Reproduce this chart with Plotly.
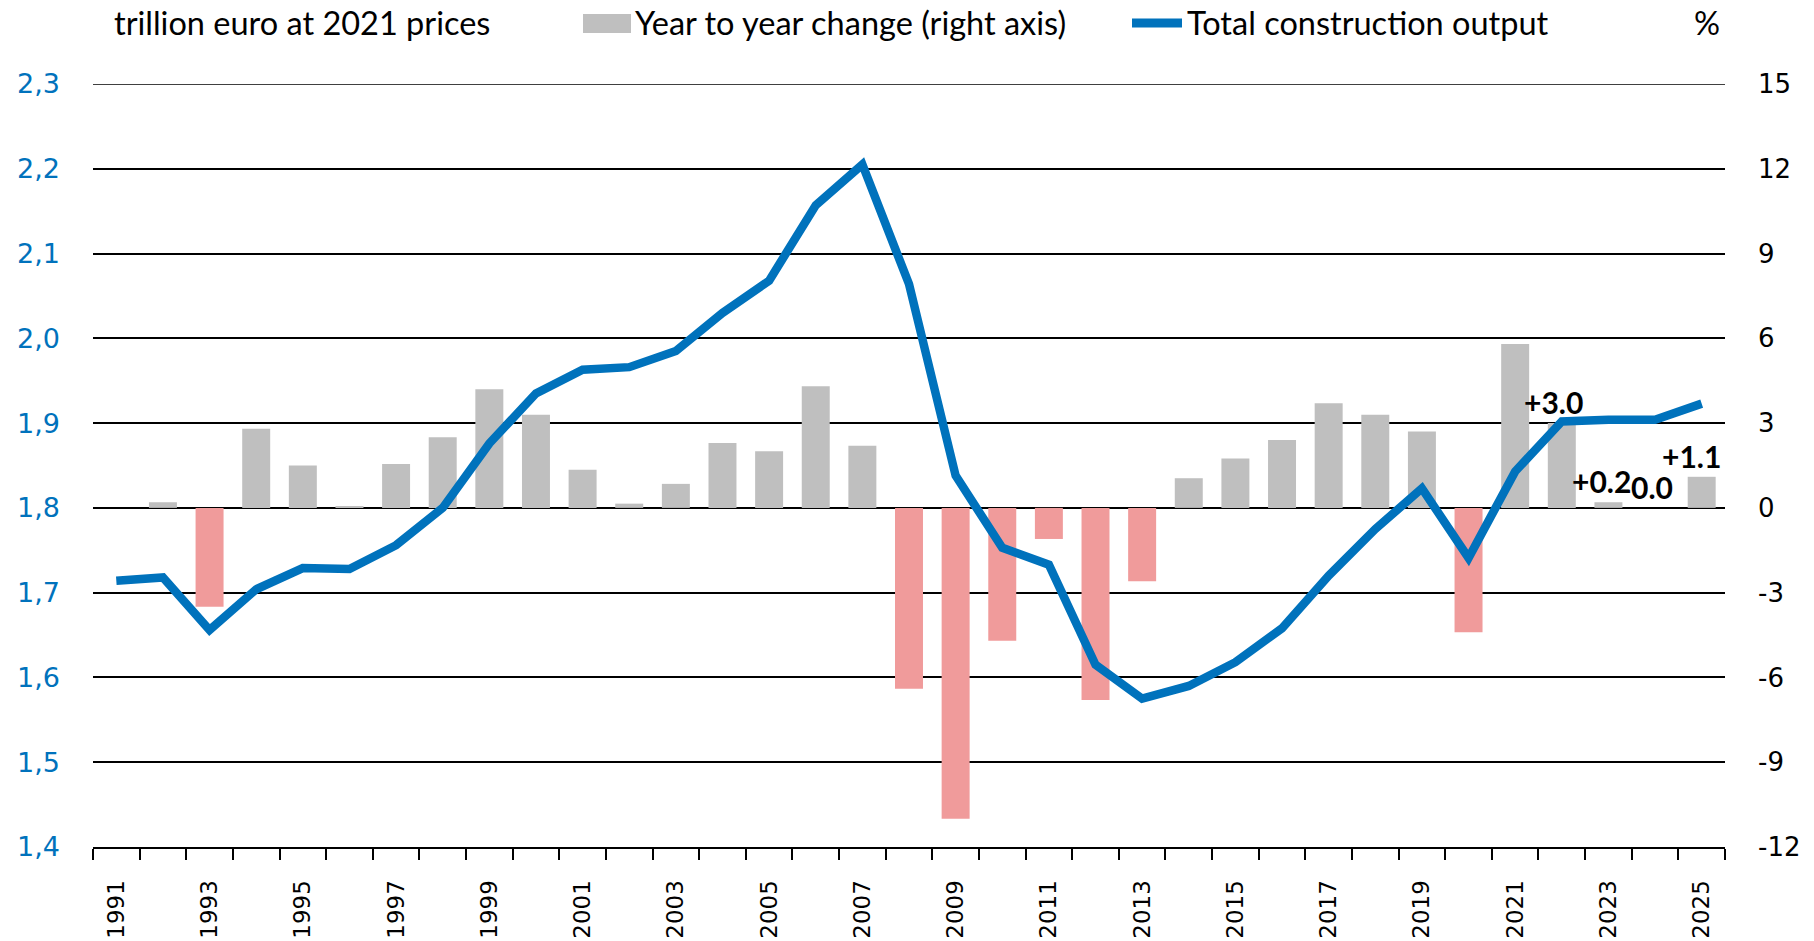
import plotly.graph_objects as go

# ---- data ----
years = list(range(1991, 2026))
total_output = [1.714, 1.718, 1.656, 1.704, 1.729, 1.728, 1.756, 1.800, 1.876, 1.935,
                1.963, 1.966, 1.985, 2.030, 2.068, 2.157, 2.205, 2.064, 1.838, 1.753,
                1.733, 1.615, 1.575, 1.590, 1.618, 1.658, 1.720, 1.775, 1.823, 1.741,
                1.843, 1.902, 1.904, 1.904, 1.923]
yoy_change = [None, 0.2, -3.5, 2.8, 1.5, 0.05, 1.55, 2.5, 4.2, 3.3,
              1.35, 0.15, 0.85, 2.3, 2.0, 4.3, 2.2, -6.4, -11.0, -4.7,
              -1.1, -6.8, -2.6, 1.05, 1.75, 2.4, 3.7, 3.3, 2.7, -4.4,
              5.8, 3.0, 0.2, 0.0, 1.1]
labelled_years = [2022, 2023, 2024, 2025]
label_xshift = [-8, -7, -3, -10]
left_ticks = [1.4, 1.5, 1.6, 1.7, 1.8, 1.9, 2.0, 2.1, 2.2, 2.3]
left_ticktext = ["1,4", "1,5", "1,6", "1,7", "1,8", "1,9", "2,0", "2,1", "2,2", "2,3"]
right_ticks = [-12, -9, -6, -3, 0, 3, 6, 9, 12, 15]
x_ticks = list(range(1991, 2026, 2))

# ---- styles ----
BLUE = "#0072BC"
GREY = "#BFBFBF"
PINK = "#F09B9B"
W, H = 1814, 941
L, R, T, B = 93, 1725, 84, 847
TEXT_FONT = "Lato, 'Source Sans Pro', 'Noto Sans', sans-serif"
TICK_FONT = "'DejaVu Sans', Verdana, sans-serif"

bar_colors = [PINK if (v is not None and v < 0) else GREY for v in yoy_change]

fig = go.Figure()
fig.add_trace(go.Bar(x=years, y=yoy_change, marker=dict(color=bar_colors, line=dict(width=0)),
                     width=0.6, yaxis="y", name="Year to year change (right axis)",
                     showlegend=False))
fig.add_trace(go.Scatter(x=years, y=total_output, mode="lines", yaxis="y2",
                         line=dict(color=BLUE, width=8.5), name="Total construction output",
                         showlegend=False))

def px_x(p):
    return (p - L) / (R - L)

def px_y(p):
    return (B - p) / (B - T)

annotations = []
for yr, dx in zip(labelled_years, label_xshift):
    v = yoy_change[years.index(yr)]
    txt = ("+" if v > 0 else "") + f"{v:.1f}"
    annotations.append(dict(x=yr, y=v, xref="x", yref="y", text=f"<b>{txt}</b>",
                            showarrow=False, xanchor="center", yanchor="middle",
                            xshift=dx, yshift=21,
                            font=dict(family=TEXT_FONT, size=30, color="black")))

legend_font = dict(family=TEXT_FONT, size=32.5, color="black")
LEG_Y = 22
annotations += [
    dict(x=px_x(112), y=px_y(LEG_Y), xref="paper", yref="paper", text="trillion euro at 2021 prices",
         showarrow=False, xanchor="left", yanchor="middle", font=legend_font),
    dict(x=px_x(633), y=px_y(LEG_Y), xref="paper", yref="paper", text="Year to year change (right axis)",
         showarrow=False, xanchor="left", yanchor="middle", font=legend_font),
    dict(x=px_x(1185), y=px_y(LEG_Y), xref="paper", yref="paper", text="Total construction output",
         showarrow=False, xanchor="left", yanchor="middle", font=legend_font),
    dict(x=px_x(1707), y=px_y(LEG_Y), xref="paper", yref="paper", text="%",
         showarrow=False, xanchor="center", yanchor="middle", font=legend_font),
]

shapes = [
    dict(type="rect", xref="paper", yref="paper", x0=px_x(583), x1=px_x(631),
         y0=px_y(33), y1=px_y(14), fillcolor=GREY, line=dict(width=0)),
    dict(type="line", xref="paper", yref="paper", x0=px_x(1132), x1=px_x(1182),
         y0=px_y(23), y1=px_y(23), line=dict(color=BLUE, width=9)),
    # top frame gridline at 15 / 2,3
    dict(type="line", xref="paper", yref="y", x0=0, x1=1, y0=15, y1=15,
         line=dict(color="black", width=1.5), layer="below"),
]

fig.update_layout(
    width=W, height=H, autosize=False,
    margin=dict(l=L, r=W - R, t=T, b=H - B, pad=0, autoexpand=False),
    paper_bgcolor="white", plot_bgcolor="white",
    bargap=0.4,
    annotations=annotations, shapes=shapes,
    xaxis=dict(range=[1990.5, 2025.5], tickmode="array", tickvals=x_ticks,
               ticktext=[str(y) for y in x_ticks], tickangle=-90,
               ticks="", showgrid=False, zeroline=False, automargin=False,
               showline=True, linecolor="black", linewidth=2,
               tickfont=dict(family=TICK_FONT, size=23, color="black"),
               ticklabelstandoff=22,
               minor=dict(tick0=1990.5, dtick=1, ticks="outside", ticklen=11,
                          tickcolor="black", tickwidth=1.5, showgrid=False)),
    yaxis=dict(side="right", range=[-12, 15], tickmode="array", tickvals=right_ticks,
               ticktext=[str(v) for v in right_ticks], automargin=False,
               showgrid=True, gridcolor="black", gridwidth=1.5, zeroline=False,
               showline=False, ticks="",
               tickfont=dict(family=TICK_FONT, size=26, color="black"),
               ticklabelstandoff=32),
    yaxis2=dict(side="left", overlaying="y", range=[1.4, 2.3], tickmode="array",
                tickvals=left_ticks, ticktext=left_ticktext, automargin=False,
                showgrid=False, zeroline=False, showline=False, ticks="",
                tickfont=dict(family=TICK_FONT, size=27, color=BLUE),
                ticklabelstandoff=32),
)

fig.write_html("out.html", config={"displayModeBar": False},
               post_script="document.body.style.margin='0';document.body.style.overflow='hidden';")
